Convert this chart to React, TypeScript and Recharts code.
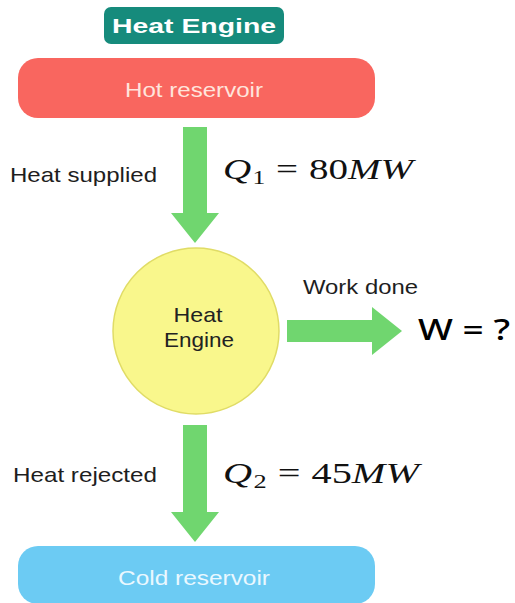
import React from 'react';
import { ComposedChart, XAxis, YAxis, Scatter, ReferenceArea, ReferenceDot } from 'recharts';

// ---- content ----
const title = 'Heat Engine';
const reservoirNames = ['Hot reservoir', 'Cold reservoir'];
const engineLines = ['Heat', 'Engine'];
const flowLabels = ['Heat supplied', 'Work done', 'Heat rejected'];
const heatValuesMW = [80, 45]; // Q1, Q2
const workLabel = 'W = ?';
const unit = 'MW';

// ---- layout (diagram coordinates, 1 unit = 1 px) ----
const W = 515;
const H = 603;
const titleBox = { x1: 104, x2: 284, y1: 7, y2: 44 };
const reservoirBoxes = [
  { x1: 18, x2: 375, y1: 58, y2: 118 },
  { x1: 18, x2: 375, y1: 546, y2: 604 },
];
const engine = { x: 196, y: 331, r: 83 };
// arrows: tip point + direction + total length
const arrows = [
  { x: 195, y: 243, dir: 'down', len: 116 },
  { x: 402, y: 331, dir: 'right', len: 115 },
  { x: 195, y: 542, dir: 'down', len: 117 },
];
// text anchors: x = left edge (or centre), y = baseline, w = rendered width
const textPoints = [
  { x: 194, y: 33, kind: 'title', i: 0, w: 164 },
  { x: 194, y: 97, kind: 'res', i: 0, w: 138 },
  { x: 194, y: 585, kind: 'res', i: 1, w: 152 },
  { x: 10, y: 182, kind: 'flow', i: 0, w: 147 },
  { x: 303, y: 294, kind: 'flow', i: 1, w: 115 },
  { x: 13, y: 482, kind: 'flow', i: 2, w: 144 },
  { x: 198, y: 322, kind: 'engine', i: 0, w: 49 },
  { x: 199, y: 347, kind: 'engine', i: 1, w: 70 },
  { x: 223, y: 179, kind: 'q', i: 0, w: 190 },
  { x: 223, y: 483, kind: 'q', i: 1, w: 196 },
  { x: 418, y: 340, kind: 'w', i: 0, w: 92 },
];

const GREEN = '#70d66f';
const SANS = '"Liberation Sans", Arial, Helvetica, sans-serif';
const SERIF = '"Liberation Serif", "Times New Roman", serif';

const ArrowShape = (props: any) => {
  const { cx, cy, payload } = props;
  const shaft = 12; // half width of shaft
  const head = 24; // half width of head
  const headL = 30;
  const L = payload.len;
  let pts: number[][];
  if (payload.dir === 'down') {
    pts = [
      [cx - shaft, cy - L], [cx + shaft, cy - L], [cx + shaft, cy - headL], [cx + head, cy - headL],
      [cx, cy], [cx - head, cy - headL], [cx - shaft, cy - headL],
    ];
  } else {
    pts = [
      [cx - L, cy - shaft + 1], [cx - headL, cy - shaft + 1], [cx - headL, cy - head], [cx, cy],
      [cx - headL, cy + head], [cx - headL, cy + shaft - 1], [cx - L, cy + shaft - 1],
    ];
  }
  return <polygon points={pts.map((p) => p.join(',')).join(' ')} fill={GREEN} />;
};

const TextShape = (props: any) => {
  const { cx, cy, payload } = props;
  const tl = { textLength: payload.w, lengthAdjust: 'spacingAndGlyphs' as const };
  if (payload.kind === 'title') {
    return (
      <text x={cx} y={cy} textAnchor="middle" fontFamily={SANS} fontWeight={700} fontSize={21} fill="#ffffff" {...tl}>
        {title}
      </text>
    );
  }
  if (payload.kind === 'res') {
    return (
      <text x={cx} y={cy} textAnchor="middle" fontFamily={SANS} fontSize={21}
        fill={payload.i === 0 ? '#ffe4dc' : '#eaf8ff'} {...tl}>
        {reservoirNames[payload.i]}
      </text>
    );
  }
  if (payload.kind === 'flow') {
    return (
      <text x={cx} y={cy} fontFamily={SANS} fontSize={21} fill="#1e1e1e" {...tl}>
        {flowLabels[payload.i]}
      </text>
    );
  }
  if (payload.kind === 'engine') {
    return (
      <text x={cx} y={cy} textAnchor="middle" fontFamily={SANS} fontSize={21} fill="#222" {...tl}>
        {engineLines[payload.i]}
      </text>
    );
  }
  if (payload.kind === 'q') {
    return (
      <text x={cx} y={cy} fontFamily={SERIF} fontSize={29} fill="#111" {...tl}>
        <tspan fontStyle="italic">Q</tspan>
        <tspan fontSize={19} dy={5} dx={1}>{payload.i + 1}</tspan>
        <tspan dy={-5} dx={8}>=</tspan>
        <tspan dx={8}>{heatValuesMW[payload.i]}</tspan>
        <tspan fontStyle="italic">{unit}</tspan>
      </text>
    );
  }
  return (
    <text x={cx} y={cy} fontFamily={'"Noto Sans", sans-serif'} fontWeight={500} fontSize={28} fill="#000" {...tl}>
      {workLabel}
    </text>
  );
};

const roundRect = (fill: string, r: number) => (p: any) => (
  <rect x={p.x} y={p.y} width={p.width} height={p.height} rx={r} ry={r} fill={fill} />
);

export default function App() {
  return (
    <div style={{ position: 'absolute', left: 0, top: 0, background: '#fff' }}>
      <ComposedChart width={W} height={H} margin={{ top: 0, right: 0, bottom: 0, left: 0 }}>
        <XAxis type="number" dataKey="x" domain={[0, W]} hide allowDataOverflow />
        <YAxis type="number" dataKey="y" domain={[0, H]} reversed hide allowDataOverflow />
        <ReferenceArea
          x1={titleBox.x1} x2={titleBox.x2} y1={titleBox.y1} y2={titleBox.y2}
          ifOverflow="visible"
          shape={roundRect('#168b7c', 7)}
        />
        <ReferenceArea
          x1={reservoirBoxes[0].x1} x2={reservoirBoxes[0].x2} y1={reservoirBoxes[0].y1} y2={reservoirBoxes[0].y2}
          ifOverflow="visible"
          shape={roundRect('#f9665f', 20)}
        />
        <ReferenceArea
          x1={reservoirBoxes[1].x1} x2={reservoirBoxes[1].x2} y1={reservoirBoxes[1].y1} y2={reservoirBoxes[1].y2}
          ifOverflow="visible"
          shape={roundRect('#6ccbf3', 20)}
        />
        <ReferenceDot
          x={engine.x} y={engine.y} r={engine.r}
          ifOverflow="visible"
          fill="#f9f78c" stroke="#e0dc66" strokeWidth={1.5}
        />
        <Scatter data={arrows} shape={ArrowShape} isAnimationActive={false} />
        <Scatter data={textPoints} shape={TextShape} isAnimationActive={false} />
      </ComposedChart>
    </div>
  );
}
